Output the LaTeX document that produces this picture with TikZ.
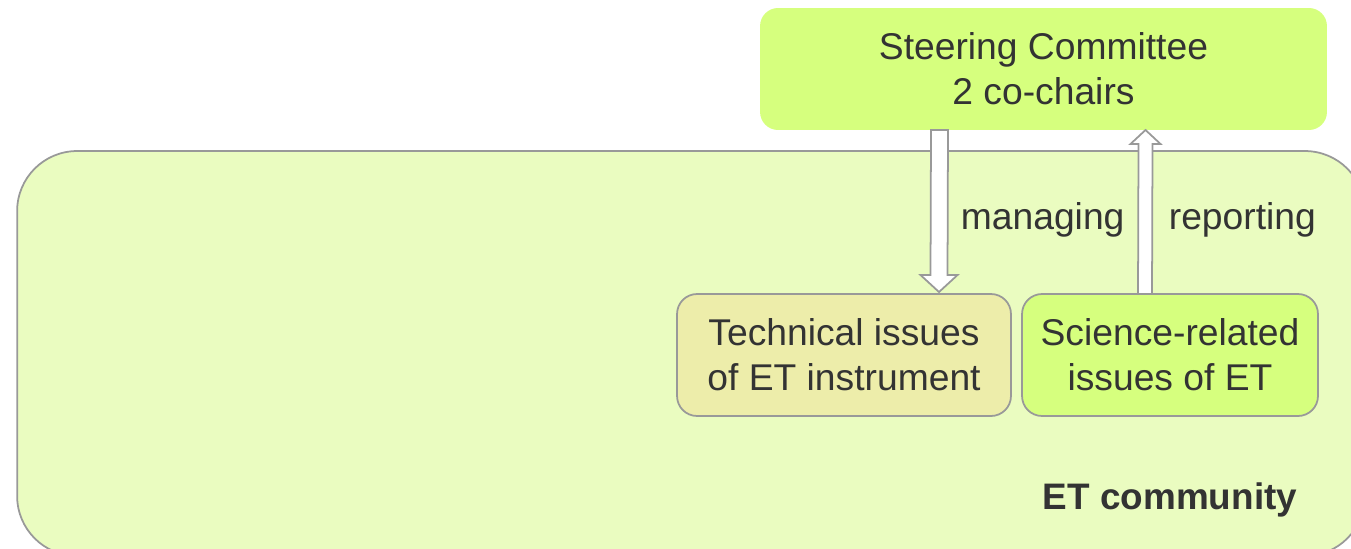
\documentclass[tikz,border=0pt]{standalone}
\usepackage{fontspec}
\setmainfont{Liberation Sans}
\usepackage{tikz}
\usetikzlibrary{positioning, calc}
\definecolor{lime}{HTML}{D6FF7E}
\definecolor{meadow}{HTML}{EAFCC0}
\definecolor{khaki}{HTML}{EDEDAA}
\definecolor{rim}{HTML}{999999}
\definecolor{ink}{HTML}{333333}
\newcommand{\hollowarrow}[5]{%
  \draw[hollow] ($(#1)+(-#3,0)$) -- ($(#2)+(-#3,#5)$) -- ($(#2)+(-#4,#5)$) -- (#2)
    -- ($(#2)+(#4,#5)$) -- ($(#2)+(#3,#5)$) -- ($(#1)+(#3,0)$) -- cycle;}

\begin{document}
\begin{tikzpicture}[
  x=0.02cm, y=-0.02cm,
  every node/.style={outer sep=0pt, text=ink},
  bx/.style={draw=rim, line width=1pt, rounded corners=0.4cm,
             minimum height=2.44cm, align=center,
             font=\fontsize{21.2}{25.5}\selectfont},
  lbl/.style={font=\fontsize{21.2}{25.5}\selectfont, anchor=west},
  hollow/.style={draw=rim, fill=white, line width=1pt, line join=miter}
]
  \clip (0,0) rectangle (1351,548);
  \node[draw=rim, line width=1pt, fill=meadow, rounded corners=1.2cm,
        minimum width=26.96cm, minimum height=8.1cm] (comm) at (691,353.5) {};
  \node[font=\bfseries\fontsize{21}{25}\selectfont] (commlbl) at (1170,500) {ET community};

  \node[bx, draw=none, fill=lime, rounded corners=0.36cm, minimum width=11.34cm]
    (steer) at (1043.5,69) {Steering Committee\\2 co-chairs};

  \coordinate (mgtop) at ($(steer.south)+(-104,0)$);
  \coordinate (rptip) at ($(steer.south)+(102,0)$);

  \node[bx, fill=khaki, minimum width=6.68cm] (tech) at (844,355)
    {Technical issues\\of ET instrument};
  \node[bx, fill=lime, minimum width=5.92cm] (sci) at (1170,355)
    {Science-related\\issues of ET};

  \coordinate (mgtip) at ($(tech.north)+(95,-2)$);
  \coordinate (rptop) at ($(sci.north)+(-25,0)$);

  \hollowarrow{mgtop}{mgtip}{8.5}{18.5}{-17}
  \hollowarrow{rptop}{rptip}{7}{15}{14}

  \node[lbl] (mg) at (955,220) {managing};
  \node[lbl] (rp) at (1163,220) {reporting};
\end{tikzpicture}
\end{document}
